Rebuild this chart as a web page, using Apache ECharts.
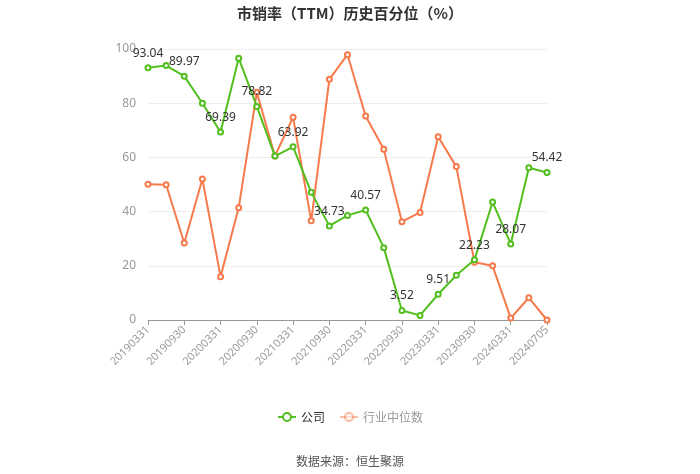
<!DOCTYPE html>
<html><head><meta charset="utf-8">
<script src="https://cdn.jsdelivr.net/npm/echarts@6/dist/echarts.min.js"></script>
<style>html,body{margin:0;padding:0;background:#fff}#c{width:700px;height:474px}</style>
</head><body><div id="c"></div>
<script>
const categories = ["20190331","20190630","20190930","20191231","20200331","20200630","20200930","20201231","20210331","20210630","20210930","20211231","20220331","20220630","20220930","20221231","20230331","20230630","20230930","20231231","20240331","20240630","20240705"];
const companyValues = [93.04,93.9,89.97,80.0,69.39,96.6,78.82,60.5,63.92,47.1,34.73,38.6,40.57,26.7,3.52,1.7,9.51,16.5,22.23,43.5,28.07,56.2,54.42];
const industryValues = [50.1,49.9,28.4,52.0,16.0,41.4,84.0,60.5,74.8,36.6,88.8,97.9,75.3,63.0,36.3,39.7,67.6,56.6,21.3,20.0,0.7,8.2,0.0];
const yTicks = [0,20,40,60,80,100];
const titleText = "市销率（TTM）历史百分位（%）";
const sourceText = "数据来源：恒生聚源";
const seriesNames = ["公司","行业中位数"];

const green = "#52bf1f", orange = "#f67a4b";
const chart = echarts.init(document.getElementById('c'));
chart.setOption({
  animation:false,
  title:[{text:titleText,left:'center',top:1,textStyle:{fontSize:15,fontWeight:'bold',color:'#333',fontFamily:'Noto Sans CJK SC'}},
         {text:sourceText,left:'center',top:450,textStyle:{fontSize:12,fontWeight:'normal',color:'#555',fontFamily:'Noto Sans CJK SC'}}],
  legend:{bottom:46,left:'center',itemWidth:18,itemHeight:10,itemGap:14,
    textStyle:{fontSize:12,color:'#333',fontFamily:'Noto Sans CJK SC'},
    data:[{name:seriesNames[0]},{name:seriesNames[1],textStyle:{color:'#999'},itemStyle:{opacity:0.5},lineStyle:{opacity:0.5}}]},
  grid:{left:148,right:153,top:49,bottom:154},
  xAxis:{type:'category',data:categories,boundaryGap:false,
    axisLine:{lineStyle:{color:'#999'}},
    axisTick:{show:true,interval:1,alignWithLabel:true,lineStyle:{color:'#999'}},
    axisLabel:{interval:1,rotate:45,color:'#999',fontSize:11,fontFamily:'Noto Sans'}},
  yAxis:{type:'value',min:yTicks[0],max:yTicks[yTicks.length-1],interval:20,
    axisLine:{show:false},axisTick:{show:false},
    splitLine:{lineStyle:{color:'#eee'}},
    axisLabel:{color:'#999',fontSize:12,fontFamily:'Noto Sans',margin:12}},
  series:[
    {name:seriesNames[0],type:'line',data:companyValues,symbol:'emptyCircle',symbolSize:5,
     lineStyle:{width:2,color:green},itemStyle:{color:green},z:3,
     label:{show:true,position:'top',color:'#333',fontSize:12,fontFamily:'Noto Sans',
       formatter:p=>p.dataIndex%2===0?p.value.toFixed(2):''}},
    {name:seriesNames[1],type:'line',data:industryValues,symbol:'emptyCircle',symbolSize:5,
     lineStyle:{width:2,color:orange},itemStyle:{color:orange},z:2}
  ]
});
</script></body></html>
